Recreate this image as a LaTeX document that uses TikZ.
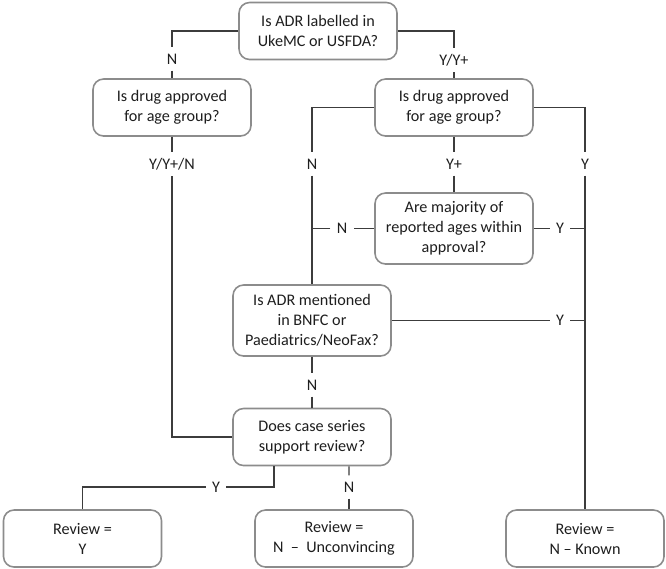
\documentclass[tikz,border=0pt]{standalone}
\usepackage{fontspec}
\setmainfont{Carlito}
\usepackage{xcolor}
\definecolor{boxgray}{HTML}{8C8C8C}
\definecolor{linegray}{HTML}{3C3C3C}
\definecolor{txtgray}{HTML}{1E1E1E}
\usepackage{tikz}
\usetikzlibrary{positioning}

\begin{document}
\begin{tikzpicture}[
  question/.style={draw=boxgray, line width=0.9pt, rounded corners=6pt, fill=white,
    text=txtgray, align=center, minimum width=3.16cm, minimum height=1.14cm,
    font=\fontsize{9.2}{11.4}\selectfont},
  tallquestion/.style={question, minimum height=1.42cm},
  lbl/.style={text=txtgray, inner sep=3.5pt, font=\fontsize{9.2}{11.4}\selectfont},
  conn/.style={draw=linegray, line width=0.75pt}]
\useasboundingbox (0,0) rectangle (13.32,-11.36);
%%%%% Questions %%%%%
\node[question] (q1) at (6.36,-0.62) {Is ADR labelled in\\UkeMC or USFDA?};
\node[question] (q2l) at (3.44,-2.15) {Is drug approved\\for age group?};
\node[question] (q2r) at (9.08,-2.15) {Is drug approved\\for age group?};
\node[tallquestion] (q3) at (9.08,-4.57) {Are majority of\\reported ages within\\approval?};
\node[tallquestion] (q4) at (6.24,-6.41) {Is ADR mentioned\\in BNFC or\\Paediatrics/NeoFax?};
\node[question] (q5) at (6.24,-8.74) {Does case series\\support review?};
%%%%% Outcomes %%%%%
\node[question] (r1) at (1.65,-10.77) {Review =\\Y};
\node[question] (r2) at (6.68,-10.77) {Review =\\N\ \ --\ \ Unconvincing};
\node[question] (r3) at (11.70,-10.77) {Review =\\N -- Known};
%%%%% Labels %%%%%
\node[lbl] (lN1) at (3.44,-1.18) {N};
\node[lbl] (lY1) at (9.08,-1.20) {Y/Y+};
\node[lbl] (lYYN) at (3.44,-3.28) {Y/Y+/N};
\node[lbl] (lN2) at (6.24,-3.28) {N};
\node[lbl] (lYp) at (9.08,-3.28) {Y+};
\node[lbl] (lY2) at (11.70,-3.28) {Y};
\node[lbl] (lN3) at (6.84,-4.57) {N};
\node[lbl] (lY3) at (11.20,-4.57) {Y};
\node[lbl] (lY4) at (11.20,-6.41) {Y};
\node[lbl] (lN4) at (6.24,-7.70) {N};
\node[lbl] (lY5) at (4.32,-9.74) {Y};
\node[lbl] (lN5) at (6.98,-9.74) {N};
%%%%% Connectors %%%%%
\draw[conn] (q1.west) -| (lN1);
\draw[conn] (lN1) -- (q2l);
\draw[conn] (q1.east) -| (lY1);
\draw[conn] (lY1) -- (q2r);
\draw[conn] (q2l) -- (lYYN);
\draw[conn] (lYYN) |- (q5.west);
\draw[conn] (q2r.west) -| (lN2);
\draw[conn] (lN2) -- (q4);
\draw[conn] (q2r) -- (lYp);
\draw[conn] (lYp) -- (q3);
\draw[conn] (q2r.east) -| (lY2);
\draw[conn] (lY2) -- (r3);
\draw[conn] (q3) -- (lN3);
\draw[conn] (lN3) -- (lN3 -| lN2);
\draw[conn] (q3) -- (lY3);
\draw[conn] (lY3) -- (lY3 -| lY2);
\draw[conn] (q4) -- (lY4);
\draw[conn] (lY4) -- (lY4 -| lY2);
\draw[conn] (q4) -- (lN4);
\draw[conn] (lN4) -- (q5);
\draw[conn] ([xshift=-0.76cm]q5.south) |- (lY5);
\draw[conn] (lY5) -| (r1.north);
\draw[conn] ([xshift=0.74cm]q5.south) -- (lN5);
\draw[conn] (lN5) -- (lN5 |- r2.north);
\end{tikzpicture}
\end{document}
